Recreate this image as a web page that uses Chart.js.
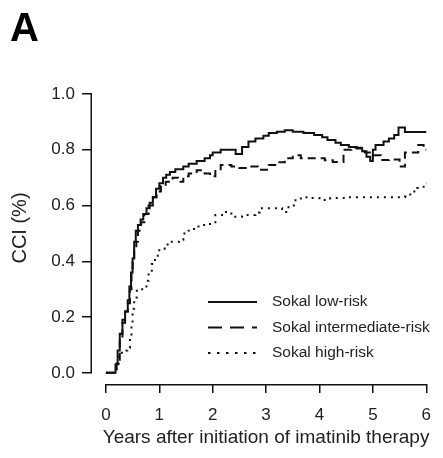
<!DOCTYPE html>
<html>
<head>
<meta charset="utf-8">
<script src="https://cdn.jsdelivr.net/npm/chart.js@4/dist/chart.umd.min.js"></script>
<style>
html,body{margin:0;padding:0;background:#fff;}
#wrap{width:443px;height:458px;}
</style>
</head>
<body>
<div id="wrap"><canvas id="c" width="443" height="458"></canvas></div>
<script>
// ---- data (years, cumulative incidence) ----
const lowRiskT = [0,0.18,0.22,0.26,0.31,0.36,0.41,0.44,0.47,0.50,0.53,0.56,0.60,0.65,0.70,0.76,0.82,0.88,0.94,1.00,1.07,1.13,1.20,1.30,1.45,1.55,1.70,1.85,1.95,2.00,2.15,2.30,2.43,2.55,2.67,2.80,2.95,3.05,3.20,3.35,3.50,3.70,3.90,4.05,4.15,4.30,4.40,4.55,4.70,4.80,4.88,4.95,5.00,5.05,5.20,5.30,5.40,5.48,5.60,6.00];
const lowRiskV = [0,0.03,0.08,0.14,0.19,0.22,0.26,0.31,0.36,0.41,0.47,0.51,0.53,0.55,0.57,0.59,0.61,0.63,0.66,0.68,0.70,0.71,0.72,0.73,0.74,0.75,0.76,0.77,0.78,0.79,0.80,0.80,0.785,0.81,0.83,0.84,0.85,0.86,0.865,0.87,0.865,0.86,0.853,0.845,0.835,0.825,0.817,0.81,0.805,0.795,0.775,0.76,0.80,0.817,0.83,0.84,0.853,0.88,0.864,0.864];

const intRiskT = [0,0.20,0.26,0.31,0.36,0.41,0.45,0.48,0.50,0.53,0.57,0.60,0.66,0.72,0.80,0.88,0.95,1.03,1.12,1.25,1.35,1.45,1.55,1.70,1.85,1.95,2.05,2.15,2.35,2.50,2.70,2.85,3.05,3.20,3.35,3.50,3.65,3.90,4.10,4.25,4.45,4.60,4.85,5.00,5.15,5.30,5.50,5.60,5.85,5.95,6.00];
const intRiskV = [0,0.04,0.12,0.18,0.22,0.25,0.30,0.36,0.40,0.44,0.47,0.51,0.54,0.57,0.60,0.63,0.65,0.67,0.685,0.70,0.685,0.705,0.715,0.727,0.715,0.705,0.73,0.745,0.74,0.735,0.74,0.728,0.745,0.755,0.77,0.78,0.77,0.77,0.762,0.756,0.80,0.807,0.79,0.78,0.763,0.765,0.74,0.79,0.817,0.80,0.80];

const highRiskT = [0,0.20,0.24,0.30,0.40,0.45,0.48,0.50,0.53,0.58,0.68,0.76,0.80,0.86,0.92,1.00,1.10,1.20,1.37,1.45,1.55,1.65,1.80,1.95,2.05,2.20,2.35,2.55,2.80,2.88,3.10,3.30,3.42,3.55,3.65,3.85,4.00,4.20,4.50,5.00,5.60,5.70,5.83,5.95,6.00];
const highRiskV = [0,0.02,0.06,0.08,0.09,0.13,0.17,0.23,0.27,0.30,0.31,0.33,0.36,0.39,0.42,0.445,0.46,0.47,0.477,0.50,0.51,0.525,0.53,0.54,0.566,0.577,0.56,0.566,0.575,0.59,0.59,0.577,0.60,0.625,0.63,0.627,0.62,0.627,0.63,0.63,0.632,0.65,0.663,0.68,0.68];

const seriesLabels = ['Sokal low-risk','Sokal intermediate-risk','Sokal high-risk'];
const xTickValues = [0,1,2,3,4,5,6];
const yTickValues = [0,0.2,0.4,0.6,0.8,1.0];

const toPts = (t,v) => t.map((x,i)=>({x:x,y:v[i]}));
const INK = '#111';
const FONT = "'Liberation Sans', Arial, Helvetica, sans-serif";

const decorPlugin = {
  id:'decor',
  afterDraw(chart){
    const {ctx, chartArea, scales:{x,y}} = chart;
    ctx.save();
    // detached axis lines
    ctx.strokeStyle = INK; ctx.lineWidth = 1.5; ctx.setLineDash([]);
    ctx.beginPath();
    const ax = chartArea.left - 0.75;
    ctx.moveTo(ax, y.getPixelForValue(yTickValues[0]));
    ctx.lineTo(ax, y.getPixelForValue(yTickValues[yTickValues.length-1]));
    const ay = chartArea.bottom + 0.75;
    ctx.moveTo(x.getPixelForValue(xTickValues[0]), ay);
    ctx.lineTo(x.getPixelForValue(xTickValues[xTickValues.length-1]), ay);
    ctx.stroke();
    // panel letter
    ctx.fillStyle = '#000';
    ctx.font = "bold 40px " + FONT;
    ctx.textBaseline = 'alphabetic'; ctx.textAlign = 'left';
    ctx.fillText('A', 10, 41);
    // y title
    ctx.save();
    ctx.translate(20, 228);
    ctx.rotate(-Math.PI/2);
    ctx.font = "20px " + FONT;
    ctx.fillStyle = '#222';
    ctx.textAlign = 'center'; ctx.textBaseline = 'middle';
    ctx.fillText('CCI (%)', 0, 0);
    ctx.restore();
    // legend
    const rows = [302, 327.5, 353];
    chart.data.datasets.forEach((ds,i)=>{
      ctx.strokeStyle = ds.borderColor;
      ctx.lineWidth = ds.borderWidth;
      ctx.setLineDash(ds.legendDash || []);
      ctx.beginPath();
      ctx.moveTo(208, rows[i]); ctx.lineTo(257, rows[i]);
      ctx.stroke();
      ctx.setLineDash([]);
      ctx.fillStyle = '#222';
      ctx.font = "15.5px " + FONT;
      ctx.textAlign = 'left'; ctx.textBaseline = 'middle';
      ctx.fillText(ds.label, 272, rows[i]);
    });
    ctx.restore();
  }
};

new Chart(document.getElementById('c'), {
  type:'line',
  data:{
    datasets:[
      {label:seriesLabels[0], data:toPts(lowRiskT,lowRiskV), borderColor:INK, borderWidth:2, borderDash:[], legendDash:[], stepped:true, pointRadius:0, fill:false},
      {label:seriesLabels[1], data:toPts(intRiskT,intRiskV), borderColor:INK, borderWidth:2, borderDash:[8,5], legendDash:[14,8], stepped:true, pointRadius:0, fill:false},
      {label:seriesLabels[2], data:toPts(highRiskT,highRiskV), borderColor:INK, borderWidth:2, borderDash:[2,5], legendDash:[2.5,6.5], stepped:true, pointRadius:0, fill:false}
    ]
  },
  options:{
    responsive:false,
    animation:false,
    events:[],
    layout:{padding:{top:94,left:0,right:0,bottom:0}},
    plugins:{legend:{display:false}, tooltip:{enabled:false}, title:{display:false}},
    scales:{
      x:{
        type:'linear', min:-0.26, max:6.26,
        afterBuildTicks:s=>{s.ticks = xTickValues.map(v=>({value:v}));},
        afterFit:s=>{s.height = 74;},
        border:{display:false},
        grid:{drawOnChartArea:false, drawTicks:true, tickLength:9, color:INK, lineWidth:1.5},
        ticks:{padding:12, color:'#222', font:{family:FONT, size:17}, maxRotation:0, autoSkip:false, callback:v=>String(v)},
        title:{display:true, text:'Years after initiation of imatinib therapy', color:'#222', font:{family:FONT, size:19}, padding:{top:0,bottom:9}}
      },
      y:{
        type:'linear', min:-0.04, max:1.0,
        afterBuildTicks:s=>{s.ticks = yTickValues.map(v=>({value:v}));},
        afterFit:s=>{s.width = 92;},
        border:{display:false},
        grid:{drawOnChartArea:false, drawTicks:true, tickLength:10, color:INK, lineWidth:1.5},
        ticks:{padding:7, color:'#222', font:{family:FONT, size:17}, autoSkip:false, callback:v=>Number(v).toFixed(1)}
      }
    }
  },
  plugins:[decorPlugin]
});
</script>
</body>
</html>
